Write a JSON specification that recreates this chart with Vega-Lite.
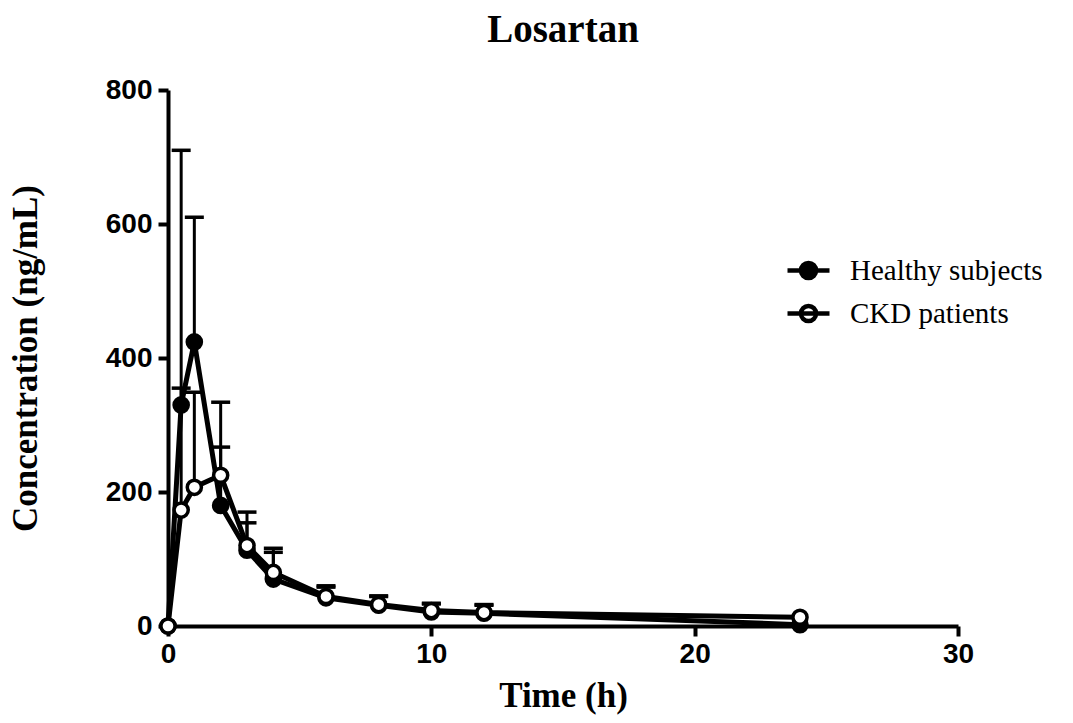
{
  "$schema": "https://vega.github.io/schema/vega-lite/v6.json",
  "autosize": "none",
  "width": 790,
  "height": 536,
  "padding": {"left": 168, "top": 90, "right": 115, "bottom": 97},
  "background": "white",
  "title": {
    "text": "Losartan",
    "font": "Liberation Serif",
    "fontSize": 39,
    "fontWeight": "bold",
    "color": "black",
    "anchor": "middle",
    "offset": 26
  },
  "config": {
    "view": {"stroke": null},
    "axis": {
      "domainColor": "black",
      "domainWidth": 4,
      "tickColor": "black",
      "tickWidth": 4,
      "tickSize": 10,
      "grid": false,
      "labelFlush": false,
      "labelFont": "Liberation Sans",
      "labelFontSize": 28,
      "labelFontWeight": "bold",
      "labelColor": "black",
      "titleFont": "Liberation Serif",
      "titleFontSize": 35,
      "titleFontWeight": "bold",
      "titleColor": "black"
    }
  },
  "data": {
    "values": [
      {"time": 0, "conc": 0, "upper": null, "group": "Healthy subjects"},
      {"time": 0.5, "conc": 330, "upper": 710, "group": "Healthy subjects"},
      {"time": 1, "conc": 424, "upper": 610, "group": "Healthy subjects"},
      {"time": 2, "conc": 180, "upper": 267, "group": "Healthy subjects"},
      {"time": 3, "conc": 113, "upper": 154, "group": "Healthy subjects"},
      {"time": 4, "conc": 70, "upper": 110, "group": "Healthy subjects"},
      {"time": 6, "conc": 42, "upper": 58, "group": "Healthy subjects"},
      {"time": 8, "conc": 31, "upper": 44, "group": "Healthy subjects"},
      {"time": 10, "conc": 21, "upper": 33, "group": "Healthy subjects"},
      {"time": 12, "conc": 19, "upper": 31, "group": "Healthy subjects"},
      {"time": 24, "conc": 2, "upper": null, "group": "Healthy subjects"},
      {"time": 0, "conc": 0, "upper": null, "group": "CKD patients"},
      {"time": 0.5, "conc": 173, "upper": 355, "group": "CKD patients"},
      {"time": 1, "conc": 207, "upper": 349, "group": "CKD patients"},
      {"time": 2, "conc": 225, "upper": 334, "group": "CKD patients"},
      {"time": 3, "conc": 120, "upper": 170, "group": "CKD patients"},
      {"time": 4, "conc": 80, "upper": 116, "group": "CKD patients"},
      {"time": 6, "conc": 44, "upper": 60, "group": "CKD patients"},
      {"time": 8, "conc": 32, "upper": 45, "group": "CKD patients"},
      {"time": 10, "conc": 23, "upper": 34, "group": "CKD patients"},
      {"time": 12, "conc": 20, "upper": 32, "group": "CKD patients"},
      {"time": 24, "conc": 13, "upper": null, "group": "CKD patients"}
    ]
  },
  "encoding": {
    "x": {
      "field": "time",
      "type": "quantitative",
      "scale": {"domain": [0, 30], "nice": false},
      "axis": {"values": [0, 10, 20, 30], "title": "Time (h)", "titlePadding": 10, "labelPadding": 4}
    }
  },
  "layer": [
    {
      "transform": [{"filter": "datum.upper != null"}],
      "mark": {"type": "rule", "color": "black", "strokeWidth": 3},
      "encoding": {
        "y": {"field": "conc", "type": "quantitative"},
        "y2": {"field": "upper"}
      }
    },
    {
      "transform": [{"filter": "datum.upper != null"}],
      "mark": {"type": "tick", "orient": "horizontal", "color": "black", "opacity": 1, "thickness": 3.5, "size": 19},
      "encoding": {
        "y": {"field": "upper", "type": "quantitative"}
      }
    },
    {
      "mark": {"type": "line", "color": "black", "strokeWidth": 5},
      "encoding": {
        "y": {
          "field": "conc",
          "type": "quantitative",
          "scale": {"domain": [0, 800], "nice": false},
          "axis": {"values": [0, 200, 400, 600, 800], "title": "Concentration (ng/mL)", "titlePadding": 62, "labelPadding": 6}
        },
        "detail": {"field": "group"}
      }
    },
    {
      "mark": {"type": "point", "filled": true, "stroke": "black", "strokeWidth": 3.5, "size": 200, "opacity": 1, "shape": "circle"},
      "encoding": {
        "y": {"field": "conc", "type": "quantitative"},
        "fill": {
          "field": "group",
          "type": "nominal",
          "scale": {"domain": ["Healthy subjects", "CKD patients"], "range": ["black", "white"]},
          "legend": {
            "title": null,
            "orient": "none",
            "legendX": 617,
            "legendY": 157,
            "padding": 0,
            "symbolType": "M-1,0H1M0.36,0A0.36,0.36,0,1,1,-0.36,0A0.36,0.36,0,1,1,0.36,0",
            "symbolSize": 1764,
            "symbolStrokeColor": "black",
            "symbolStrokeWidth": 4.5,
            "labelFont": "Liberation Serif",
            "labelFontSize": 29,
            "labelColor": "black",
            "labelOffset": 18,
            "rowPadding": 2,
            "labelLimit": 400
          }
        }
      }
    }
  ]
}
